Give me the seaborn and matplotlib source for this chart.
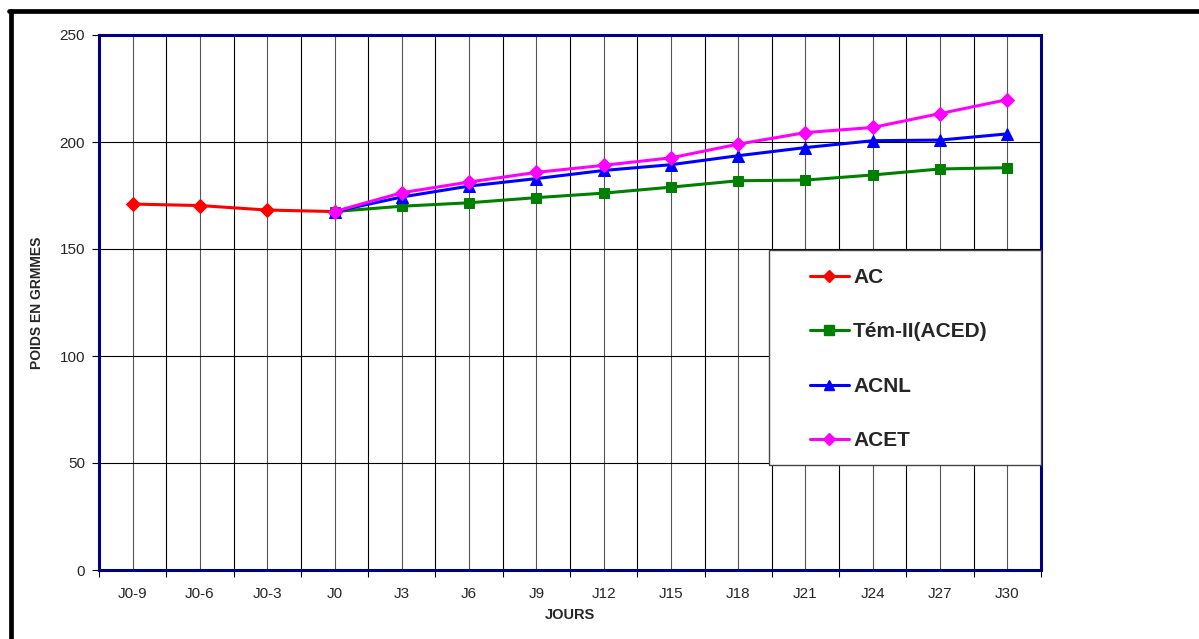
import numpy as np
import pandas as pd
import matplotlib
matplotlib.use("Agg")
import matplotlib.pyplot as plt
from matplotlib.lines import Line2D
from matplotlib.patches import Rectangle
import seaborn as sns

days = ["J0-9", "J0-6", "J0-3", "J0", "J3", "J6", "J9", "J12", "J15", "J18", "J21", "J24", "J27", "J30"]

ac_days = ["J0-9", "J0-6", "J0-3", "J0"]
ac_vals = [171.0, 170.3, 168.2, 167.5]

trt_days = ["J0", "J3", "J6", "J9", "J12", "J15", "J18", "J21", "J24", "J27", "J30"]
tem_vals = [167.5, 170.0, 171.6, 174.0, 176.1, 178.9, 181.9, 182.2, 184.6, 187.4, 188.0]
acnl_vals = [167.5, 174.3, 179.4, 182.9, 186.7, 189.4, 193.6, 197.4, 200.6, 200.9, 203.8]
acet_vals = [167.5, 176.3, 181.3, 185.8, 189.1, 192.6, 199.0, 204.4, 206.8, 213.3, 219.8]

series_names = ["AC", "Tém-II(ACED)", "ACNL", "ACET"]
colors = ["#FF0000", "#008000", "#0000FF", "#FF00FF"]
markers = ["D", "s", "^", "D"]
msizes = [7, 7.5, 8, 7]

sns.set_theme(style="white")
plt.rcParams["font.family"] = ["Liberation Sans", "DejaVu Sans"]

W, H = 1199, 639
fig = plt.figure(figsize=(W / 100, H / 100), dpi=100)
ax = fig.add_axes([99 / W, 1 - 570 / H, (1041 - 99) / W, (570 - 35) / H])

data = [(ac_days, ac_vals), (trt_days, tem_vals), (trt_days, acnl_vals), (trt_days, acet_vals)]
handles = []
for (dlist, vals), name, c, m, ms in zip(data, series_names, colors, markers, msizes):
    df = pd.DataFrame({"x": [days.index(d) for d in dlist], "y": vals})
    sns.lineplot(data=df, x="x", y="y", ax=ax, color=c, marker=m, markersize=ms,
                 markeredgecolor=c, linewidth=2.2, sort=False, zorder=3, legend=False)
    handles.append(Line2D([], [], color=c, marker=m, markersize=ms - 0.5, markeredgecolor=c, linewidth=2.2))

ax.set_xlim(-0.5, len(days) - 0.5)
ax.set_ylim(0, 250)
ax.set_yticks([0, 50, 100, 150, 200, 250])
ax.set_xticks(np.arange(-0.5, len(days), 1.0))
ax.set_xticklabels([])
ax.set_xticks(np.arange(len(days)), minor=True)
ax.set_xticklabels(days, minor=True)
ax.tick_params(axis="x", which="major", direction="out", length=5, width=0.8, color="black", bottom=True)
ax.tick_params(axis="x", which="minor", length=0, labelsize=11, pad=12)
ax.tick_params(axis="y", direction="out", length=5, width=0.8, color="black", left=True, labelsize=11, pad=5)

ax.grid(True, which="major", axis="both", color="black", linewidth=0.8)
ax.grid(True, which="minor", axis="x", color="#555555", linewidth=0.8)
ax.set_axisbelow(True)

for s in ax.spines.values():
    s.set_visible(True)
    s.set_color("#000080")
    s.set_linewidth(2.2)

ax.set_xlabel("JOURS", fontsize=10.5, fontweight="bold", labelpad=5)
ax.set_ylabel("POIDS EN GRMMES", fontsize=10, fontweight="bold", labelpad=11)

# legend box
fig.add_artist(Rectangle((769 / W, 1 - 465 / H), 272 / W, 215 / H, transform=fig.transFigure,
                         facecolor="white", edgecolor="#444444", linewidth=1.0, zorder=2))
leg = fig.legend(handles, series_names, loc="upper left",
                 bbox_to_anchor=(810 / W, 1 - 268 / H), bbox_transform=fig.transFigure,
                 prop={"weight": "bold", "size": 15}, frameon=False,
                 handlelength=1.85, labelspacing=1.7, borderpad=0, borderaxespad=0,
                 handletextpad=0.22)
leg.set_zorder(5)

# outer frame of the chart area
fig.add_artist(Line2D([11 / W, 11 / W], [0, 1 - 10.5 / H], color="black", linewidth=3.4, transform=fig.transFigure))
fig.add_artist(Line2D([9 / W, 1], [1 - 10.5 / H, 1 - 10.5 / H], color="black", linewidth=3.4, transform=fig.transFigure))

fig.savefig("out.png", dpi=100, facecolor="white")
